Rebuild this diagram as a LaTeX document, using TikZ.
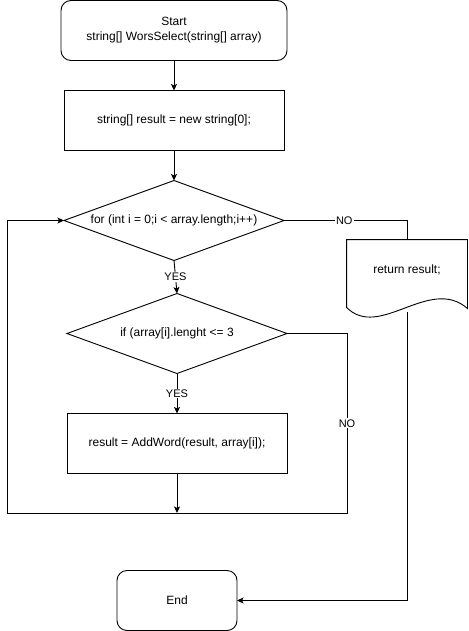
\documentclass[tikz,border=0pt]{standalone}
\usepackage{fontspec}
\setmainfont{Liberation Sans}
\usetikzlibrary{arrows.meta,positioning,shapes.geometric}

\begin{document}
\begin{tikzpicture}[x=1pt,y=-1pt,line width=0.9pt,>={Stealth[length=6.5pt,width=6pt,inset=1.5pt]},
		font=\fontsize{12}{15}\selectfont,
		term/.style={draw,outer sep=0pt,rounded corners=10pt,minimum height=60pt,align=center},
		block/.style={draw,outer sep=0pt,minimum width=220pt,minimum height=60pt},
		cond/.style={draw,diamond,aspect=2.75,outer sep=0pt,inner sep=0pt,minimum width=220pt,minimum height=80pt},
		lbl/.style={fill=white,inner sep=1pt,font=\fontsize{11}{13}\selectfont}]
		\useasboundingbox (0,0) rectangle (468,631);
		\node[term,minimum width=226pt] (start) at (174,30.5) {Start\\string[] WorsSelect(string[] array)};
		\node[block] (init) [below=30pt of start] {string[] result = new string[0];};
		\node[cond] (for) [below=30pt of init] {for (int i = 0;i < array.length;i++)};
		\node[cond] (ifd) [below=33pt of for, xshift=3pt] {if (array[i].lenght <= 3};
		\node[block] (body) [below=40pt of ifd] {result = AddWord(result, array[i]);};
		\node[term,minimum width=120pt] (end) [below=97pt of body] {End};
		\node[minimum width=120pt,minimum height=60pt] (ret) at (407,270) {return result;};
		% document shape with wavy bottom
		\draw (ret.north west) -- (ret.north east) -- ([yshift=-8pt]ret.south east)
		.. controls +(-38,-33) and +(33,33) .. ([yshift=-7pt]ret.south west) -- cycle;
		\coordinate (retb) at ([yshift=-12pt]ret.south);
		\coordinate (loopr) at (347,513);
		\coordinate (loopl) at (7,513);
		\path[->]
		(start) edge (init)
		(init) edge (for)
		(for.south) edge node[lbl] {YES} (ifd.north)
		(ifd) edge node[lbl] {YES} (body)
		(body) edge (body.south |- loopr)
		;
		\draw (for.east) -| node[lbl,pos=0.245] {NO} (ret.north);
		\draw[->] (ifd.east) -| node[lbl,pos=0.75] {NO} (loopr) -- (loopl) |- (for.west);
		\draw[->] (retb) |- (end.east);
	\end{tikzpicture}
\end{document}
